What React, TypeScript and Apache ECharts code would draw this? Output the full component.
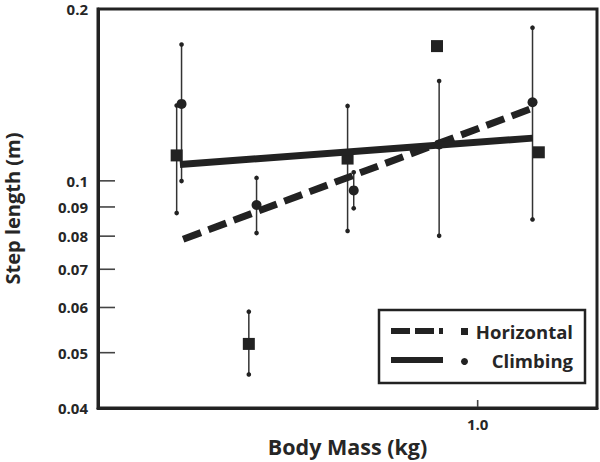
import React, { useEffect, useRef } from "react";
import * as echarts from "echarts";

// Axis ranges and ticks (real units)
const xRange = [0.3, 1.46];
const yRange = [0.04, 0.2];
const xTickValues = [1.0];
const yTickValues = [0.05, 0.06, 0.07, 0.08, 0.09, 0.1];
const yLabelValues = [0.04, 0.05, 0.06, 0.07, 0.08, 0.09, 0.1, 0.2];

// Horizontal locomotion (squares)
const horizMass = [0.385, 0.484, 0.662, 0.879, 1.214];
const horizStep = [0.1108, 0.0518, 0.1094, 0.1722, 0.1122];
const horizLow: (number | null)[] = [0.0878, 0.0458, 0.0817, null, null];
const horizHigh: (number | null)[] = [0.1355, 0.059, 0.1353, null, null];

// Climbing locomotion (circles)
const climbMass = [0.391, 0.496, 0.675, 0.885, 1.19];
const climbStep = [0.1364, 0.0907, 0.0962, 0.1158, 0.1373];
const climbLow = [0.0999, 0.081, 0.0895, 0.0801, 0.0856];
const climbHigh = [0.1733, 0.1012, 0.1035, 0.1496, 0.1855];

// Fitted regression lines (endpoints)
const horizFitMass = [0.393, 1.205];
const horizFitStep = [0.079, 0.1349];
const climbFitMass = [0.389, 1.191];
const climbFitStep = [0.1068, 0.1188];

const L = Math.log10;
const FONT = "'Open Sans', 'Noto Sans', sans-serif";
const INK = "#222222";
const TXT = "#262626";

function pts(xs: number[], ys: number[]) {
  return xs.map((x, i) => [L(x), L(ys[i])]);
}
function bars(xs: number[], lo: (number | null)[], hi: (number | null)[]) {
  const out: number[][] = [];
  xs.forEach((x, i) => {
    const a = lo[i];
    const b = hi[i];
    if (a != null && b != null) out.push([L(x), L(a), L(b)]);
  });
  return out;
}

function fmt(v: number) {
  return String(Number(Math.pow(10, v).toPrecision(2)));
}

const errRender = (params: any, api: any) => {
  const x = api.value(0);
  const p1 = api.coord([x, api.value(1)]);
  const p2 = api.coord([x, api.value(2)]);
  return {
    type: "group",
    children: [
      {
        type: "line",
        shape: { x1: p1[0], y1: p1[1], x2: p2[0], y2: p2[1] },
        style: { stroke: "#333", lineWidth: 1.5 },
      },
      { type: "circle", shape: { cx: p1[0], cy: p1[1], r: 2.3 }, style: { fill: INK } },
      { type: "circle", shape: { cx: p2[0], cy: p2[1], r: 2.3 }, style: { fill: INK } },
    ],
  };
};

const legendGroup = {
  id: "legendBox",
  type: "group",
  z: 10,
  children: [
    {
      type: "rect",
      shape: { x: 379, y: 310, width: 206, height: 73 },
      style: { fill: "#fff", stroke: INK, lineWidth: 2.5 },
    },
    {
      type: "line",
      shape: { x1: 391, y1: 331, x2: 443, y2: 331 },
      style: { stroke: INK, lineWidth: 6, lineDash: [19, 5] },
    },
    { type: "rect", shape: { x: 461, y: 328, width: 7, height: 7 }, style: { fill: INK } },
    {
      type: "text",
      style: {
        x: 573,
        y: 331.5,
        text: "Horizontal",
        align: "right",
        verticalAlign: "middle",
        font: `bold 18.5px ${FONT}`,
        fill: TXT,
      },
    },
    {
      type: "line",
      shape: { x1: 391, y1: 360, x2: 443, y2: 360 },
      style: { stroke: INK, lineWidth: 6 },
    },
    { type: "circle", shape: { cx: 464.5, cy: 361.5, r: 3.5 }, style: { fill: INK } },
    {
      type: "text",
      style: {
        x: 573,
        y: 360,
        text: "Climbing",
        align: "right",
        verticalAlign: "middle",
        font: `bold 18.5px ${FONT}`,
        fill: TXT,
      },
    },
  ],
};

export default function App() {
  const ref = useRef<HTMLDivElement>(null);
  useEffect(() => {
    if (!ref.current) return;
    const chart = echarts.init(ref.current, null, { renderer: "svg" });
    const option: any = {
      animation: false,
      backgroundColor: "#ffffff",
      grid: {
        left: 98,
        right: 3,
        top: 9,
        bottom: 54,
        containLabel: false,
        outerBoundsMode: "none",
        show: true,
        borderWidth: 3,
        borderColor: INK,
      },
      xAxis: {
        type: "value",
        min: L(xRange[0]),
        max: L(xRange[1]),
        name: "Body Mass (kg)",
        nameLocation: "middle",
        nameGap: 26,
        nameTextStyle: { fontFamily: FONT, fontWeight: "bold", fontSize: 21.5, color: TXT },
        axisLine: { show: true, onZero: false, lineStyle: { color: INK, width: 3 } },
        splitLine: { show: false },
        axisTick: { show: false },
        axisLabel: {
          customValues: xTickValues.map(L),
          formatter: (v: number) => Math.pow(10, v).toFixed(1),
          fontFamily: FONT,
          fontWeight: "bold",
          fontSize: 15,
          color: TXT,
          margin: 8,
        },
      },
      yAxis: {
        type: "value",
        min: L(yRange[0]),
        max: L(yRange[1]),
        name: "Step length (m)",
        nameLocation: "middle",
        nameGap: 76,
        nameTextStyle: { fontFamily: FONT, fontWeight: "bold", fontSize: 20, color: TXT },
        axisLine: { show: true, onZero: false, lineStyle: { color: INK, width: 3 } },
        splitLine: { show: false },
        axisTick: { show: false },
        axisLabel: {
          customValues: yLabelValues.map(L),
          formatter: fmt,
          fontFamily: FONT,
          fontWeight: "bold",
          fontSize: 15,
          color: TXT,
          margin: 10,
        },
      },
      series: [
        {
          name: "Horizontal error",
          type: "custom",
          renderItem: errRender,
          data: bars(horizMass, horizLow, horizHigh),
          encode: { x: 0, y: [1, 2] },
          z: 2,
        },
        {
          name: "Climbing error",
          type: "custom",
          renderItem: errRender,
          data: bars(climbMass, climbLow, climbHigh),
          encode: { x: 0, y: [1, 2] },
          z: 2,
        },
        {
          name: "Horizontal",
          type: "scatter",
          symbol: "rect",
          symbolSize: 12,
          itemStyle: { color: INK, opacity: 1 },
          data: pts(horizMass, horizStep),
          z: 3,
        },
        {
          name: "Climbing",
          type: "scatter",
          symbol: "circle",
          symbolSize: 10,
          itemStyle: { color: INK, opacity: 1 },
          data: pts(climbMass, climbStep),
          z: 3,
        },
        {
          name: "Horizontal fit",
          type: "line",
          showSymbol: false,
          symbol: "none",
          lineStyle: { color: INK, width: 7, type: [19, 8], cap: "butt" },
          data: pts(horizFitMass, horizFitStep),
          z: 4,
        },
        {
          name: "Climbing fit",
          type: "line",
          showSymbol: false,
          symbol: "none",
          lineStyle: { color: INK, width: 7, cap: "butt" },
          data: pts(climbFitMass, climbFitStep),
          z: 4,
        },
      ],
      graphic: [legendGroup],
    };
    chart.setOption(option);

    // Inside tick marks placed through the axes' own scales
    const tickLines: any[] = [];
    yTickValues.forEach((v) => {
      const p = chart.convertToPixel({ gridIndex: 0 } as any, [L(xRange[0]), L(v)]) as number[];
      if (p && isFinite(p[0]) && isFinite(p[1])) {
        tickLines.push({
          type: "line",
          shape: { x1: p[0] + 1, y1: p[1], x2: p[0] + 17, y2: p[1] },
          style: { stroke: "#444", lineWidth: 1.6 },
        });
      }
    });
    xTickValues.forEach((v) => {
      const p = chart.convertToPixel({ gridIndex: 0 } as any, [L(v), L(yRange[0])]) as number[];
      if (p && isFinite(p[0]) && isFinite(p[1])) {
        tickLines.push({
          type: "line",
          shape: { x1: p[0], y1: p[1] - 1, x2: p[0], y2: p[1] - 8 },
          style: { stroke: "#444", lineWidth: 1.6 },
        });
      }
    });
    chart.setOption({
      graphic: [legendGroup, { id: "axisTicks", type: "group", z: 9, children: tickLines }],
    });
    return () => chart.dispose();
  }, []);
  return <div ref={ref} style={{ width: 600, height: 462, position: "absolute", left: 0, top: 0 }} />;
}
